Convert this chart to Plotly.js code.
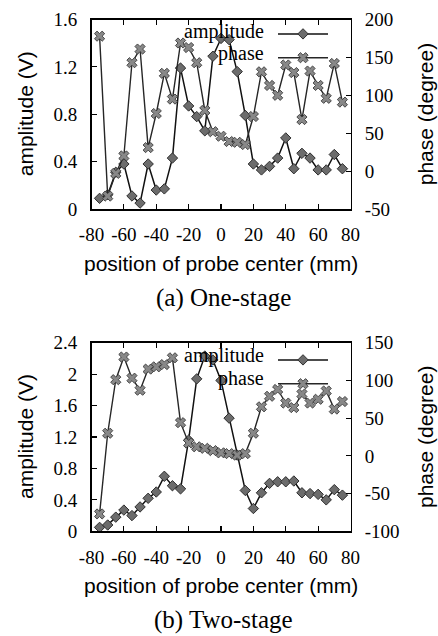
<!DOCTYPE html>
<html><head><meta charset="utf-8">
<script src="https://cdn.plot.ly/plotly-3.0.1.min.js"></script>
<style>html,body{margin:0;padding:0;background:#fff}#chart{width:438px;height:636px}</style>
</head><body><div id="chart"></div>
<script>
// Probe positions (mm)
const positions = [-75,-70,-65,-60,-55,-50,-45,-40,-35,-30,-25,-20,-15,-10,-5,0,5,10,15,20,25,30,35,40,45,50,55,60,65,70,75];
// (a) One-stage
const ampOne   = [0.09,0.12,0.31,0.38,0.11,0.05,0.38,0.16,0.17,0.43,1.19,0.87,0.78,0.66,1.29,1.44,1.43,1.16,0.79,0.38,0.33,0.36,0.43,0.60,0.34,0.47,0.43,0.33,0.33,0.46,0.34];
const phaseOne = [178,-33,-3,20,143,161,31,76,129,95,169,163,143,80,52,46,39,38,35,72,131,113,100,140,130,68,132,113,96,142,91];
// (b) Two-stage
const ampTwo   = [0.05,0.08,0.18,0.27,0.20,0.31,0.42,0.50,0.70,0.58,0.54,1.16,1.94,2.23,2.18,1.92,1.44,0.97,0.52,0.29,0.49,0.61,0.63,0.63,0.64,0.49,0.48,0.47,0.40,0.53,0.46];
const phaseTwo = [-77,30,101,131,103,87,115,118,121,130,44,17,12,10,7,4,3,1,3,30,65,79,88,70,64,82,70,75,86,62,72];
// Tick labels
const xTickVals = [-80,-60,-40,-20,0,20,40,60,80];
const xTickText = ['-80','-60','-40','-20','0','20','40','60','80'];
const ampOneTickVals = [0,0.4,0.8,1.2,1.6];
const ampOneTickText = ['0','0.4','0.8','1.2','1.6'];
const phaseOneTickVals = [-50,0,50,100,150,200];
const phaseOneTickText = ['-50','0','50','100','150','200'];
const ampTwoTickVals = [0,0.4,0.8,1.2,1.6,2,2.4];
const ampTwoTickText = ['0','0.4','0.8','1.2','1.6','2','2.4'];
const phaseTwoTickVals = [-100,-50,0,50,100,150];
const phaseTwoTickText = ['-100','-50','0','50','100','150'];
const seriesNames = ['amplitude','phase'];
const captions = ['(a) One-stage','(b) Two-stage'];
const xTitle = 'position of probe center (mm)';
const yTitleLeft = 'amplitude (V)';
const yTitleRight = 'phase (degree)';

const W = 438, H = 636;
const SERIF = '"Liberation Serif", "Times New Roman", serif';
const SANS = '"Liberation Sans", Arial, sans-serif';
const px = v => v / W;
const py = v => 1 - v / H;

const ampStyle = {mode:'lines+markers', line:{color:'#111', width:1.5},
  marker:{symbol:'diamond', size:8, color:'#6c6c6c', line:{color:'#2e2e2e', width:1}}};
const phaseStyle = {mode:'lines+markers', line:{color:'#262626', width:1.4},
  marker:{symbol:'x', size:9, color:'#888888', line:{color:'#3a3a3a', width:0.9}}};

const traces = [
  Object.assign({x:positions, y:ampOne, xaxis:'x', yaxis:'y', name:' ', legend:'legend'}, ampStyle),
  Object.assign({x:positions, y:phaseOne, xaxis:'x', yaxis:'y3', name:' ', legend:'legend'}, phaseStyle),
  Object.assign({x:positions, y:ampTwo, xaxis:'x2', yaxis:'y2', name:' ', legend:'legend2'}, ampStyle),
  Object.assign({x:positions, y:phaseTwo, xaxis:'x2', yaxis:'y4', name:' ', legend:'legend2'}, phaseStyle)
];

const xDom = [px(91.5), px(350.5)];
const dom1 = [py(209), py(19.5)];
const dom2 = [py(531.3), py(342.7)];
function tf(){ return {family:SERIF, size:19, color:'#000'}; }
function base(){ return {ticks:'inside', ticklen:5, tickwidth:1.2, tickcolor:'#000', showline:true,
  linecolor:'#000', linewidth:1.5, showgrid:false, zeroline:false, tickfont:tf(), fixedrange:true}; }

function xAx(anchor){ return Object.assign(base(), {domain:xDom, anchor:anchor, range:[-80,80],
  tickmode:'array', tickvals:xTickVals, ticktext:xTickText, mirror:'ticks', ticklabelstandoff:8}); }
function yAx(anchor, dom, range, tv, tt){ return Object.assign(base(), {domain:dom, anchor:anchor,
  range:range, tickmode:'array', tickvals:tv, ticktext:tt, side:'left', ticklabelstandoff:9}); }
function y2Ax(anchor, over, range, tv, tt){ return Object.assign(base(), {overlaying:over, anchor:anchor,
  range:range, tickmode:'array', tickvals:tv, ticktext:tt, side:'right', ticklabelstandoff:9}); }

const ann = [];
function addPanelText(top, bottom, xTitleY, capY, legY1, legY2, capText){
  const mid = (top + bottom) / 2;
  ann.push({text:yTitleLeft, x:px(25), y:py(mid), textangle:-90, font:{family:SANS, size:21, color:'#000'}});
  ann.push({text:yTitleRight, x:px(425), y:py(mid), textangle:-90, font:{family:SANS, size:21, color:'#000'}});
  ann.push({text:xTitle, x:px(221), y:py(xTitleY), font:{family:SANS, size:21, color:'#000'}});
  ann.push({text:capText, x:px(223), y:py(capY), font:{family:SERIF, size:25, color:'#000'}});
  ann.push({text:seriesNames[0], x:px(266), y:py(legY1), xanchor:'right', font:{family:SERIF, size:20, color:'#000'}});
  ann.push({text:seriesNames[1], x:px(266), y:py(legY2), xanchor:'right', font:{family:SERIF, size:20, color:'#000'}});
}
addPanelText(19.5, 209, 263, 298, 32, 54, captions[0]);
addPanelText(342.7, 531.3, 585, 620, 355, 378, captions[1]);
ann.forEach(a => { a.xref='paper'; a.yref='paper'; a.showarrow=false; if(!a.xanchor) a.xanchor='center'; a.yanchor='middle'; });

function leg(x, y){ return {x:x, y:y, xanchor:'left', yanchor:'top', bgcolor:'rgba(0,0,0,0)', borderwidth:0,
  font:{family:SERIF, size:16, color:'#000'}, itemwidth:50, tracegroupgap:0, orientation:'v'}; }

const layout = {
  width:W, height:H, margin:{l:0, r:0, t:0, b:0}, paper_bgcolor:'#fff', plot_bgcolor:'rgba(0,0,0,0)',
  font:{family:SERIF, size:19, color:'#000'},
  showlegend:true,
  xaxis: xAx('y'),
  yaxis: yAx('x', dom1, [0,1.6], ampOneTickVals, ampOneTickText),
  yaxis3: y2Ax('x', 'y', [-50,200], phaseOneTickVals, phaseOneTickText),
  xaxis2: xAx('y2'),
  yaxis2: yAx('x2', dom2, [0,2.4], ampTwoTickVals, ampTwoTickText),
  yaxis4: y2Ax('x2', 'y2', [-100,150], phaseTwoTickVals, phaseTwoTickText),
  legend: leg(px(273), py(17)),
  legend2: leg(px(273), py(343)),
  annotations: ann
};
Plotly.newPlot('chart', traces, layout, {staticPlot:true, displayModeBar:false});
</script>
</body></html>
